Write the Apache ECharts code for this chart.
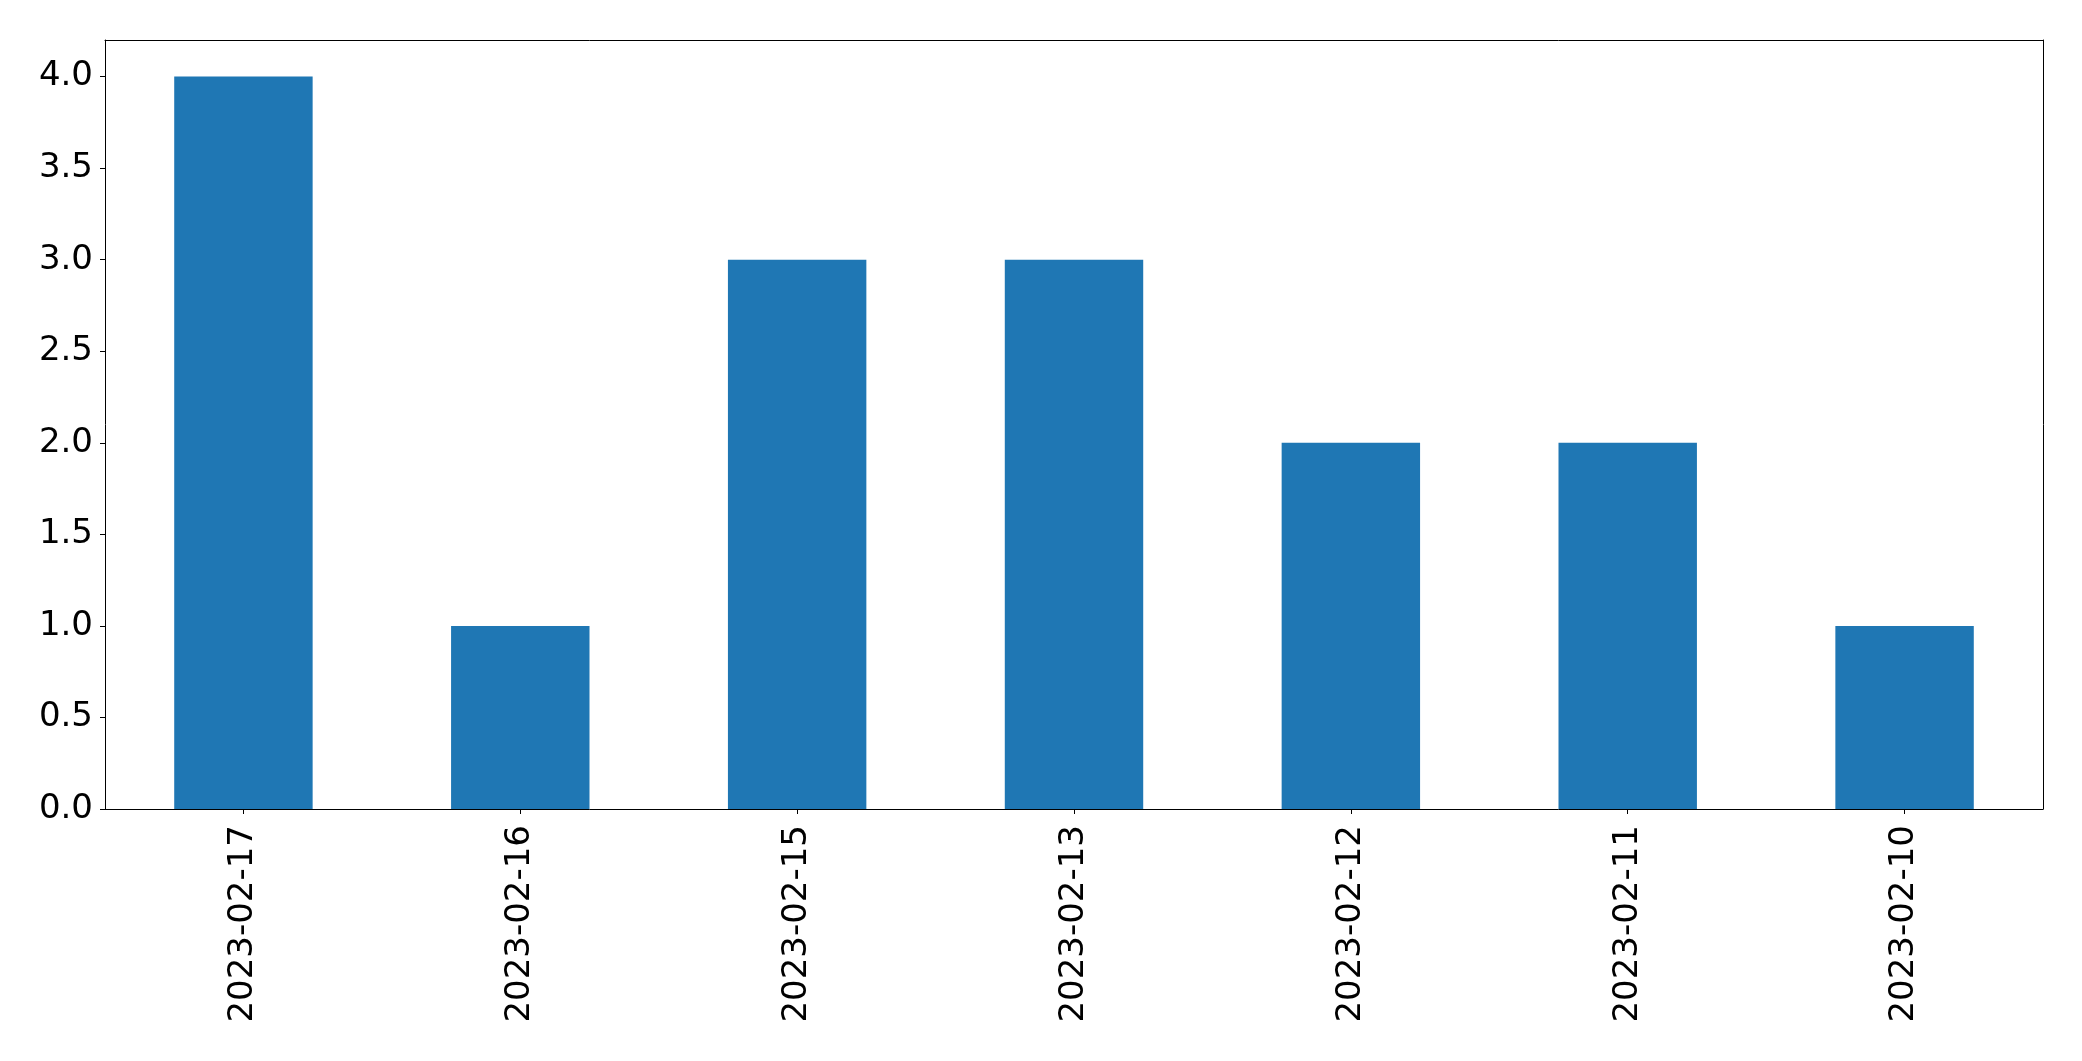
<!DOCTYPE html>
<html>
<head>
<meta charset="utf-8">
<script src="https://cdn.jsdelivr.net/npm/echarts@6/dist/echarts.min.js"></script>
<style>
html,body{margin:0;padding:0;background:#fff;}
#chart{width:2082px;height:1061px;}
</style>
</head>
<body>
<div id="chart"></div>
<script>
const categories = ["2023-02-17","2023-02-16","2023-02-15","2023-02-13","2023-02-12","2023-02-11","2023-02-10"];
const values = [4, 1, 3, 3, 2, 2, 1];
const yTicks = [0, 0.5, 1, 1.5, 2, 2.5, 3, 3.5, 4];

const font = "DejaVu Sans";
const chart = echarts.init(document.getElementById('chart'));
chart.setOption({
  animation: false,
  backgroundColor: '#fff',
  grid: {left: 105, right: 39, top: 40, bottom: 252, containLabel: false},
  xAxis: [{
    type: 'category',
    data: categories,
    boundaryGap: true,
    axisLine: {show: true, lineStyle: {color: '#000', width: 1}},
    axisTick: {show: true, alignWithLabel: true, length: 5, lineStyle: {color: '#000', width: 1}},
    axisLabel: {rotate: 90, margin: 16, color: '#000', fontSize: 34, fontFamily: font, interval: 0},
    splitLine: {show: false}
  }, {
    type: 'category',
    position: 'top',
    data: categories,
    axisLine: {show: true, onZero: false, lineStyle: {color: '#000', width: 1}},
    axisTick: {show: false},
    axisLabel: {show: false},
    splitLine: {show: false}
  }],
  yAxis: [{
    type: 'value',
    min: 0,
    max: 4.2,
    axisLine: {show: true, lineStyle: {color: '#000', width: 1}},
    axisTick: {show: true, length: 5, customValues: yTicks, lineStyle: {color: '#000', width: 1}},
    axisLabel: {customValues: yTicks, margin: 12, color: '#000', fontSize: 34, fontFamily: font,
      formatter: v => v.toFixed(1)},
    splitLine: {show: false}
  }, {
    type: 'value',
    position: 'right',
    min: 0,
    max: 4.2,
    axisLine: {show: true, onZero: false, lineStyle: {color: '#000', width: 1}},
    axisTick: {show: false},
    axisLabel: {show: false},
    splitLine: {show: false}
  }],
  series: [{
    type: 'bar',
    data: values,
    barWidth: '50%',
    itemStyle: {color: '#1f77b4'}
  }]
});
</script>
</body>
</html>
